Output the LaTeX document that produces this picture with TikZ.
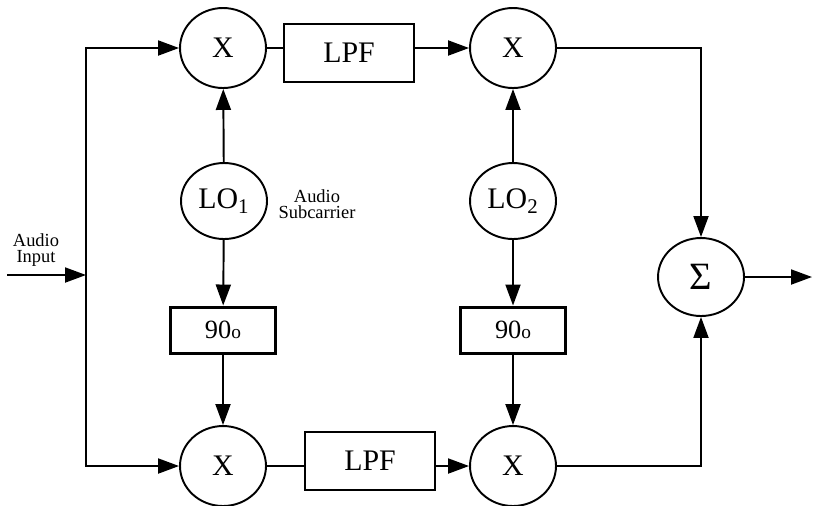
\documentclass[tikz,border=0pt]{standalone}
\usepackage{fontspec}
\setmainfont{Liberation Serif}
\usetikzlibrary{arrows.meta,shapes.geometric}

\begin{document}
\begin{tikzpicture}[x=0.02cm,y=-0.02cm,line width=1.1pt,
    sig/.style={-{Triangle[length=0.42cm,width=0.3cm]}},
    mixer/.style={draw,ellipse,inner sep=0pt,minimum width=1.72cm,minimum height=1.6cm,font=\fontsize{17}{19}\selectfont},
    lobox/.style={mixer,minimum height=1.52cm},
    lpfbox/.style={draw,rectangle,line width=0.9pt,minimum width=2.6cm,minimum height=1.16cm,inner sep=0pt,font=\fontsize{17}{19}\selectfont},
    phbox/.style={draw,rectangle,line width=1.7pt,minimum width=2.1cm,minimum height=0.92cm,inner sep=0pt,font=\fontsize{15}{17}\selectfont},
    small/.style={align=center,inner sep=0pt,font=\fontsize{10.5}{11}\selectfont}]
    \useasboundingbox(0,0)rectangle(813,505);
    % blocks
    \node[mixer] (mx1) at (223,48) {X};
    \node[lpfbox] (lpf1) at (349,53) {LPF\hspace{0.64cm}};
    \node[mixer] (mx2) at (513,48) {X};
    \node[lobox] (lo1) at (224,201) {LO\textsubscript{1}};
    \node[lobox] (lo2) at (513,201) {LO\textsubscript{2}};
    \node[phbox] (ph1) at (223,330) {90{\fontsize{11}{12}\selectfont o}};
    \node[phbox] (ph2) at (513,330) {90{\fontsize{11}{12}\selectfont o}};
    \node[mixer] (mx3) at (223,466) {X};
    \node[lpfbox] (lpf2) at (370,461) {LPF\hspace{0.64cm}};
    \node[mixer] (mx4) at (513,466) {X};
    \node[mixer,minimum height=1.56cm,font=\fontsize{22}{24}\selectfont] (sum) at (701,277) {Σ};
    \node[small] (inlbl) at (36,250) {Audio\\[-2pt]Input};
    \node[small] (sublbl) at (317,204) {Audio\\[-2pt]Subcarrier};
    \coordinate (in) at (7,275);
    \coordinate (bus) at (86,275);
    \coordinate (out) at (812,277);
    % connections
    \draw[sig] (in) -- (bus);
    \draw[sig] (bus) |- (mx1.west);
    \draw[sig] (bus) |- (mx3.west);
    \draw (mx1.east) -- (lpf1.west |- mx1.east);
    \draw[sig] (lpf1.east |- mx2.west) -- (mx2.west);
    \draw (mx3.east) -- (lpf2.west |- mx3.east);
    \draw[sig] (lpf2.east |- mx4.west) -- (mx4.west);
    \draw[sig] (lo1) -- (mx1);
    \draw[sig] (lo1) -- (ph1);
    \draw[sig] (ph1) -- (mx3);
    \draw[sig] (lo2) -- (mx2);
    \draw[sig] (lo2) -- (ph2);
    \draw[sig] (ph2) -- (mx4);
    \draw[sig] (mx2.east) -| (sum.north);
    \draw[sig] (mx4.east) -| (sum.south);
    \draw[sig] (sum) -- (out);
\end{tikzpicture}
\end{document}
